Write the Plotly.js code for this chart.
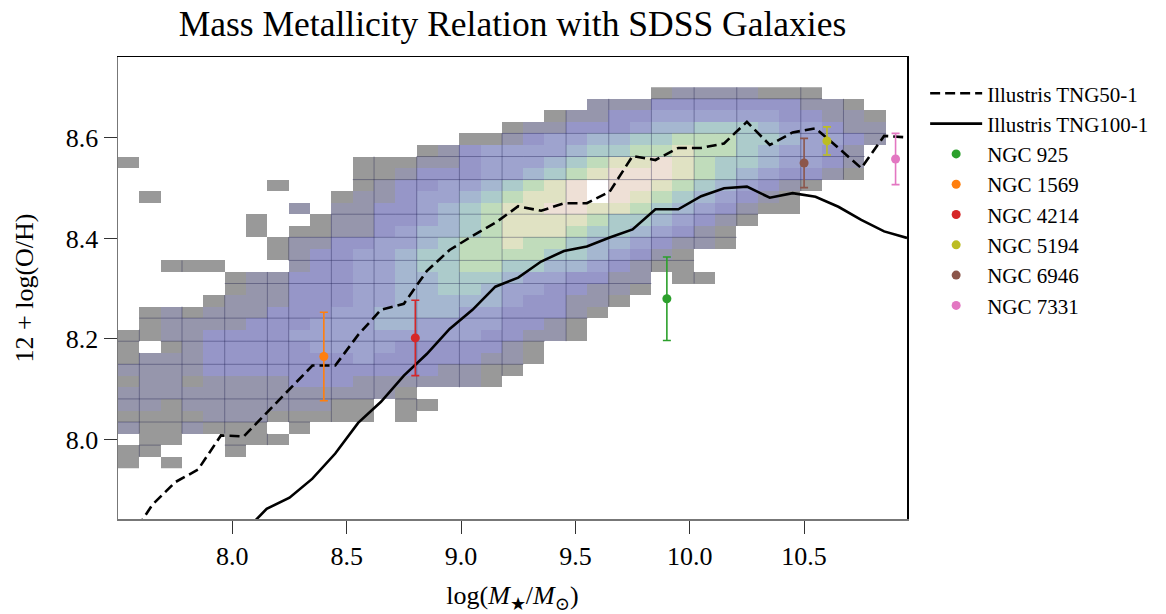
<!DOCTYPE html>
<html>
<head>
<meta charset="utf-8">
<script src="https://cdn.plot.ly/plotly-3.0.1.min.js"></script>
<style>html,body{margin:0;padding:0;background:#fff;}#chart{width:1166px;height:614px;}</style>
</head>
<body>
<div id="chart"></div>
<script>
// ---------------- DATA ----------------
// 2D histogram of SDSS galaxies: binning
const xBinStart = 7.5;      // left edge of first mass bin
const xBinWidth = 0.0933;   // mass bin width
const yBinTop = 8.7008;     // top edge of first (highest) metallicity bin
const yBinHeight = 0.02297; // metallicity bin height
// density level per cell (0 = lowest occupied, 9 = highest), '.' = empty; rows listed from top (high O/H) to bottom
const densityRows = [
  ".........................01111000....",
  "......................1112222222110..",
  "....................0112233333322110.",
  "..................011222344555433211.",
  "................00123344556665543321.",
  "..............012333345566766543321..",
  "0..........000112333456778765543321..",
  "...........001222334567888765432210..",
  ".......0...0122334567898876543210....",
  ".0........0112334567789876543210.....",
  "........1.1122345677887765432100.....",
  "......0..011223456777765543210.......",
  "......0.001123445677765543210........",
  ".......0112233456676654432110........",
  ".......01223345566665543210..........",
  "..000...1223345566554432100..........",
  ".....01122233445554332211.00.........",
  ".....01122233445543322110............",
  "....01112223344444322110.............",
  ".0101112223344443322210..............",
  ".011112223334433332210...............",
  "0011222233333333322110...............",
  "0.012222233332222210.................",
  "01112222222322222110.................",
  "1111222222222221100..................",
  "011011112221111110...................",
  "11111111111110.......................",
  "110111111100.00......................",
  "000011100000.0.......................",
  "1001000.0............................",
  ".00..000.............................",
  "00...0...............................",
  "0.0.................................."
];
// Illustris simulation median relations
const tngMass = [7.55,7.65,7.75,7.85,7.95,8.05,8.15,8.25,8.35,8.45,8.55,8.65,8.75,8.85,8.95,9.05,9.15,9.25,9.35,9.45,9.55,9.65,9.75,9.85,9.95,10.05,10.15,10.25,10.35,10.45,10.55,10.65,10.75,10.85,10.95];
const tng50OH = [7.80,7.87,7.915,7.940,8.008,8.006,8.053,8.099,8.147,8.147,8.208,8.258,8.270,8.335,8.377,8.405,8.431,8.464,8.455,8.470,8.470,8.493,8.564,8.556,8.580,8.580,8.589,8.632,8.586,8.611,8.619,8.580,8.540,8.604,8.601];
const tng100Mass = [8.05,8.15,8.25,8.35,8.45,8.55,8.65,8.75,8.85,8.95,9.05,9.15,9.25,9.35,9.45,9.55,9.65,9.75,9.85,9.95,10.05,10.15,10.25,10.35,10.45,10.55,10.65,10.75,10.85,10.95];
const tng100OH = [7.815,7.862,7.884,7.922,7.972,8.033,8.075,8.127,8.170,8.220,8.258,8.304,8.322,8.354,8.375,8.384,8.402,8.418,8.458,8.458,8.484,8.500,8.503,8.481,8.490,8.483,8.463,8.437,8.414,8.401];
// Observed galaxies
const galNames = ["NGC 925","NGC 1569","NGC 4214","NGC 5194","NGC 6946","NGC 7331"];
const galMass  = [9.9, 8.4, 8.8, 10.6, 10.5, 10.9];
const galOH    = [8.28, 8.165, 8.202, 8.594, 8.550, 8.558];
const galErr   = [0.083, 0.088, 0.075, 0.028, 0.049, 0.051];
const galColors = ["#2ca02c","#ff7f0e","#d62728","#bcbd22","#8c564b","#e377c2"];
// tick labels
const xTicks = [8.0, 8.5, 9.0, 9.5, 10.0, 10.5];
const yTicks = [8.0, 8.2, 8.4, 8.6];
// rendering seams of the histogram mesh (edge indices)
const seamCols = [1,3,5,7,8,10,12,14,16,18,21,23,25,27,29,32,34];
const seamRows = [1,4,6,8,11,13,15,17,20,22,24,27,29,31];

// ---------------- BUILD ----------------
const nRows = densityRows.length, nCols = densityRows[0].length;
const occ = (j, i) => (j >= 0 && j < nRows && i >= 0 && i < nCols && densityRows[j][i] !== '.');
const z = [];
for (let j = nRows - 1; j >= 0; j--) {
  const row = [];
  for (let i = 0; i < nCols; i++) {
    const ch = densityRows[j][i];
    row.push(ch === '.' ? null : Number(ch));
  }
  z.push(row);
}
const bottomRowCenter = yBinTop - (nRows - 1) * yBinHeight - yBinHeight / 2;

const cols = ["#999999","#9696ac","#9696c8","#9ea3ce","#a5b7d0","#accbcb","#c0dcbb","#e0e2c3","#eee0d6","#ffffff"];
const colorscale = cols.map((c, k) => [k / (cols.length - 1), c]);

const traces = [];
traces.push({
  type: 'heatmap', z: z,
  x0: xBinStart + xBinWidth / 2, dx: xBinWidth,
  y0: bottomRowCenter, dy: yBinHeight,
  zmin: 0, zmax: 9, colorscale: colorscale, showscale: false,
  zsmooth: false, hoverinfo: 'skip', showlegend: false
});

// seam lines
const sx = [], sy = [];
const edgeX = k => xBinStart + k * xBinWidth;
const edgeY = j => yBinTop - j * yBinHeight;
seamCols.forEach(k => {
  for (let j = 0; j < nRows; j++) {
    if (occ(j, k - 1) && occ(j, k)) { sx.push(edgeX(k), edgeX(k), null); sy.push(edgeY(j), edgeY(j + 1), null); }
  }
});
seamRows.forEach(j => {
  for (let i = 0; i < nCols; i++) {
    if (occ(j - 1, i) && occ(j, i)) { sx.push(edgeX(i), edgeX(i + 1), null); sy.push(edgeY(j), edgeY(j), null); }
  }
});
traces.push({type:'scatter', mode:'lines', x: sx, y: sy, line:{color:'rgba(10,10,60,0.33)', width:1},
  hoverinfo:'skip', showlegend:false, connectgaps:false});

traces.push({type:'scatter', mode:'lines', name:'Illustris TNG50-1', x: tngMass, y: tng50OH,
  line:{color:'black', width:2.6, dash:'10px,5px'}});
traces.push({type:'scatter', mode:'lines', name:'Illustris TNG100-1', x: tng100Mass, y: tng100OH,
  line:{color:'black', width:2.6}});
galNames.forEach((n, k) => {
  traces.push({type:'scatter', mode:'markers', name:n, x:[galMass[k]], y:[galOH[k]],
    marker:{color:galColors[k], size:9},
    error_y:{type:'data', array:[galErr[k]], color:galColors[k], thickness:1.6, width:4}});
});

const serif = '"Liberation Serif", "DejaVu Serif", serif';
const xr = [7.5, 10.95], yr = [7.8417, 8.761];
const layout = {
  width: 1166, height: 614,
  margin: {l:118, r:257, t:57, b:95},
  paper_bgcolor:'white', plot_bgcolor:'white',
  font: {family: serif, color:'black', size:21},
  title: {text:'Mass Metallicity Relation with SDSS Galaxies', font:{family:serif, size:35.5, color:'black'},
    x:0.5, xanchor:'center', xref:'paper', y:0.962, yanchor:'middle', yref:'container'},
  xaxis: {range:xr, tickvals:xTicks, ticktext:xTicks.map(v=>v.toFixed(1)), ticks:'outside', ticklen:13, tickwidth:1,
    tickcolor:'#333', showline:true, linecolor:'#777', linewidth:1.5, showgrid:false, zeroline:false,
    tickfont:{family:serif, size:26}, title:{text:'log(<i>M</i><sub>★</sub>/<i>M</i><sub>⊙</sub>)', font:{family:serif, size:26}, standoff:16}},
  yaxis: {range:yr, tickvals:yTicks, ticktext:yTicks.map(v=>v.toFixed(1)), ticks:'outside', ticklen:13, tickwidth:1,
    tickcolor:'#333', showline:true, linecolor:'#777', linewidth:1.5, showgrid:false, zeroline:false,
    tickfont:{family:serif, size:26}, title:{text:'12 + log(O/H)', font:{family:serif, size:26}, standoff:24}},
  xaxis2: {range:xr, overlaying:'x', side:'top', showline:true, linecolor:'black', linewidth:1.5, showticklabels:false,
    ticks:'', showgrid:false, zeroline:false},
  yaxis2: {range:yr, overlaying:'y', side:'right', showline:true, linecolor:'black', linewidth:1.5, showticklabels:false,
    ticks:'', showgrid:false, zeroline:false},
  legend: {x:1.023, xanchor:'left', y:0.965, yanchor:'top', itemwidth:52, font:{family:serif, size:21}, bgcolor:'rgba(0,0,0,0)'},
  showlegend:true
};
// dummy traces to activate the mirror axes
traces.push({type:'scatter', x:[], y:[], xaxis:'x2', yaxis:'y2', showlegend:false, hoverinfo:'skip'});
Plotly.newPlot('chart', traces, layout, {staticPlot:true, displayModeBar:false});
</script>
</body>
</html>
